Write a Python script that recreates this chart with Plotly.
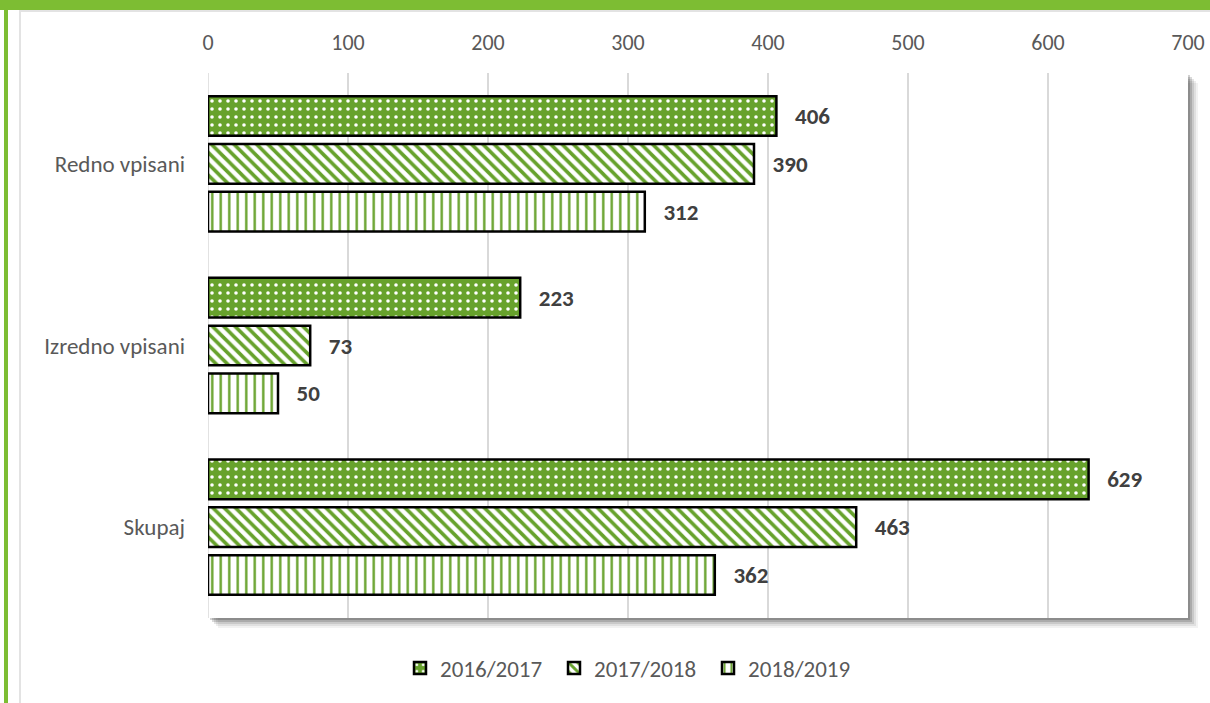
import plotly.graph_objects as go

categories = ["Redno vpisani", "Izredno vpisani", "Skupaj"]
series_names = ["2016/2017", "2017/2018", "2018/2019"]
values_2016 = [406, 223, 629]
values_2017 = [390, 73, 463]
values_2018 = [312, 50, 362]
x_ticks = [0, 100, 200, 300, 400, 500, 600, 700]

W, H = 1210, 703
L, R, T, B = 208, 22, 73, 85
PW, PH = W - L - R, H - T - B

def px_x(p):
    return (p - L) / PW

def px_y(p):
    return (H - B - p) / PH

GREEN = "#67a22c"
FRAME = "#7dbd33"
FONT = "Carlito, Lato, 'Open Sans', sans-serif"

fig = go.Figure()
patterns = [
    dict(shape=".", fgcolor="white", bgcolor=GREEN, size=8, solidity=0.16, fillmode="replace"),
    dict(shape="\\", fgcolor=GREEN, bgcolor="white", size=8, solidity=0.45, fillmode="replace"),
    dict(shape="|", fgcolor=GREEN, bgcolor="white", size=8.5, solidity=0.28, fillmode="replace"),
]
for name, vals, pat in zip(series_names, [values_2016, values_2017, values_2018], patterns):
    fig.add_trace(go.Bar(
        y=categories, x=vals, name=name, orientation="h",
        marker=dict(color=pat["bgcolor"], pattern=pat, line=dict(color="black", width=2.5)),
        text=vals, texttemplate="\u00a0\u00a0\u00a0%{x}", textposition="outside",
        textfont=dict(family=FONT, size=23, color="#404040", weight="bold"),
        cliponaxis=False,
    ))

shapes = []
# plot-area shadow (right and bottom strips, outside the plot area)
for off, op in [(10, 0.05), (8, 0.07), (6, 0.10), (4, 0.15), (2, 0.18)]:
    shapes.append(dict(type="rect", xref="paper", yref="paper",
                       x0=px_x(L + PW), x1=px_x(L + PW + off), y0=px_y(H - B + off), y1=px_y(T + off),
                       fillcolor=f"rgba(0,0,0,{op})", line=dict(width=0), layer="below"))
    shapes.append(dict(type="rect", xref="paper", yref="paper",
                       x0=px_x(L + off), x1=px_x(L + PW), y0=px_y(H - B + off), y1=px_y(H - B),
                       fillcolor=f"rgba(0,0,0,{op})", line=dict(width=0), layer="below"))
# frame
shapes.append(dict(type="rect", xref="paper", yref="paper",
                   x0=px_x(0), x1=px_x(W), y0=px_y(10), y1=px_y(0),
                   fillcolor=FRAME, line=dict(width=0), layer="above"))
shapes.append(dict(type="rect", xref="paper", yref="paper",
                   x0=px_x(4), x1=px_x(8), y0=px_y(H), y1=px_y(0),
                   fillcolor=FRAME, line=dict(width=0), layer="above"))
shapes.append(dict(type="rect", xref="paper", yref="paper",
                   x0=px_x(19), x1=px_x(21), y0=px_y(H), y1=px_y(10),
                   fillcolor="#e3e3e3", line=dict(width=0), layer="below"))
shapes.append(dict(type="rect", xref="paper", yref="paper",
                   x0=px_x(19), x1=px_x(W), y0=px_y(12), y1=px_y(10),
                   fillcolor="#e3e3e3", line=dict(width=0), layer="below"))

fig.update_layout(
    width=W, height=H,
    margin=dict(l=L, r=R, t=T, b=B, autoexpand=False),
    paper_bgcolor="white", plot_bgcolor="white",
    barmode="group", bargap=0.21, bargroupgap=0.17,
    font=dict(family=FONT, size=22, color="#595959"),
    xaxis=dict(side="top", range=[0, 700], tickvals=x_ticks, showgrid=True,
               gridcolor="#d9d9d9", gridwidth=1.5, zeroline=False, showline=False,
               ticks="", ticklabelstandoff=18, tickfont=dict(size=22, color="#595959")),
    yaxis=dict(autorange="reversed", showline=False, ticks="", ticklabelstandoff=22,
               tickfont=dict(size=23, color="#595959")),
    legend=dict(orientation="h", x=px_x(400), xanchor="left", y=px_y(668), yanchor="middle",
                font=dict(size=23, color="#595959"), itemwidth=30, traceorder="normal",
                entrywidth=109, entrywidthmode="pixels"),
    shapes=shapes,
    showlegend=True,
)
fig.add_vline(x=0, line=dict(color="#d9d9d9", width=1.5), layer="below")

fig.write_html("out.html", post_script="document.body.style.margin='0';",
               config={"displayModeBar": False})
